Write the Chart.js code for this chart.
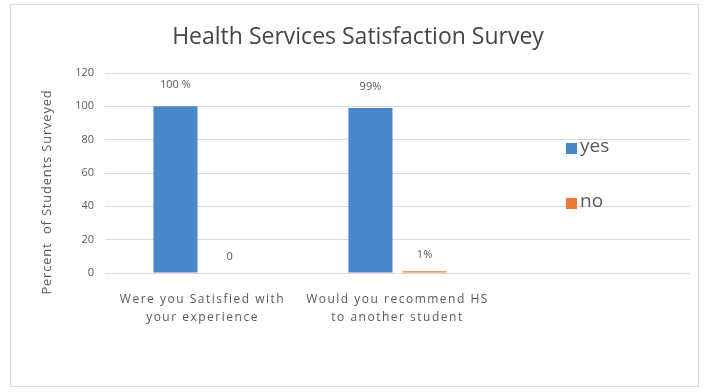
<!DOCTYPE html>
<html>
<head>
<meta charset="utf-8">
<script src="https://cdn.jsdelivr.net/npm/chart.js@4"></script>
<style>
  html, body { margin: 0; padding: 0; background: #fff; }
  #wrap { position: relative; width: 709px; height: 392px; }
  #frame {
    position: absolute; left: 10px; top: 4px; width: 687px; height: 381px;
    border: 1px solid #dcdcdc;
  }
  canvas { position: absolute; left: 0; top: 0; }
</style>
</head>
<body>
<div id="wrap">
  <div id="frame"></div>
  <canvas id="surveyChart" width="709" height="392"></canvas>
</div>
<script>
const chartTitle = "Health Services Satisfaction Survey";
const categories = [
  ["Were you Satisfied with", "your experience"],
  ["Would you recommend HS", "to another student"],
  ""
];
const yesValues = [100, 99, null];
const noValues = [0, 1, null];
const yesLabels = ["100 %", "99%", ""];
const noLabels = ["0", "1%", ""];
const yTicks = [0, 20, 40, 60, 80, 100, 120];
const yTitle = "Percent  of Students Surveyed";

const textColor = "#595959";
const fontFamily = "'Open Sans', 'Liberation Sans', sans-serif";

// value text above each bar
const valueLabels = {
  id: "valueLabels",
  afterDatasetsDraw(chart) {
    const ctx = chart.ctx;
    const texts = [yesLabels, noLabels];
    ctx.save();
    ctx.font = "11px " + fontFamily;
    ctx.fillStyle = textColor;
    ctx.textAlign = "center";
    ctx.textBaseline = "middle";
    chart.data.datasets.forEach((ds, i) => {
      chart.getDatasetMeta(i).data.forEach((bar, j) => {
        if (!texts[i][j]) return;
        const off = i === 0 ? 21 : 16;
        ctx.fillText(texts[i][j], bar.x, bar.y - off);
      });
    });
    ctx.restore();
  }
};

// title, category names under the axis and the rotated y title
const chartTexts = {
  id: "chartTexts",
  afterDraw(chart) {
    const ctx = chart.ctx;
    const x = chart.scales.x;
    ctx.save();
    ctx.textAlign = "center";
    ctx.textBaseline = "middle";

    ctx.fillStyle = "#454545";
    ctx.font = "23px " + fontFamily;
    ctx.fillText(chartTitle, 358, 37);

    ctx.fillStyle = textColor;
    ctx.font = "12px " + fontFamily;
    ctx.letterSpacing = "1.5px";
    categories.forEach((lines, i) => {
      if (!lines) return;
      const cx = x.getPixelForTick(i);
      [].concat(lines).forEach((line, k) => {
        ctx.fillText(line, cx, 300 + k * 18);
      });
    });

    ctx.font = "13px " + fontFamily;
    ctx.letterSpacing = "0.8px";
    ctx.translate(47, 192);
    ctx.rotate(-Math.PI / 2);
    ctx.fillText(yTitle, 0, 0);
    ctx.restore();
  }
};

// legend drawn over the right side of the plot
const sideLegend = {
  id: "sideLegend",
  afterDraw(chart) {
    const ctx = chart.ctx;
    const x = 566, ys = [148, 203];
    ctx.save();
    ctx.font = "19px " + fontFamily;
    ctx.textBaseline = "middle";
    chart.data.datasets.forEach((ds, i) => {
      ctx.fillStyle = ds.backgroundColor;
      ctx.fillRect(x, ys[i] - 5, 11, 11);
      ctx.fillStyle = textColor;
      ctx.fillText(ds.label, x + 14, ys[i] - 1);
    });
    ctx.restore();
  }
};

new Chart(document.getElementById("surveyChart").getContext("2d"), {
  type: "bar",
  data: {
    labels: categories,
    datasets: [
      {
        label: "yes",
        data: yesValues,
        backgroundColor: "#4a87c9",
        categoryPercentage: 0.555,
        barPercentage: 0.815,
      },
      {
        label: "no",
        data: noValues,
        backgroundColor: "#e97a34",
        categoryPercentage: 0.555,
        barPercentage: 0.815,
      },
    ],
  },
  options: {
    responsive: false,
    animation: false,
    layout: { padding: { left: 0, right: 19, top: 73, bottom: 0 } },
    plugins: {
      legend: { display: false },
      tooltip: { enabled: false },
      title: { display: false },
    },
    scales: {
      y: {
        min: 0,
        max: 120,
        afterBuildTicks: (scale) => {
          scale.ticks = yTicks.map((v) => ({ value: v }));
        },
        afterFit: (scale) => { scale.width = 105; },
        grid: { color: "#d9d9d9", drawTicks: false },
        border: { display: false },
        ticks: {
          color: textColor,
          padding: 11,
          font: { family: fontFamily, size: 11 },
        },
      },
      x: {
        afterFit: (scale) => { scale.height = 119; },
        grid: { display: false },
        border: { color: "#d9d9d9" },
        ticks: { display: false },
      },
    },
  },
  plugins: [valueLabels, chartTexts, sideLegend],
});
</script>
</body>
</html>
